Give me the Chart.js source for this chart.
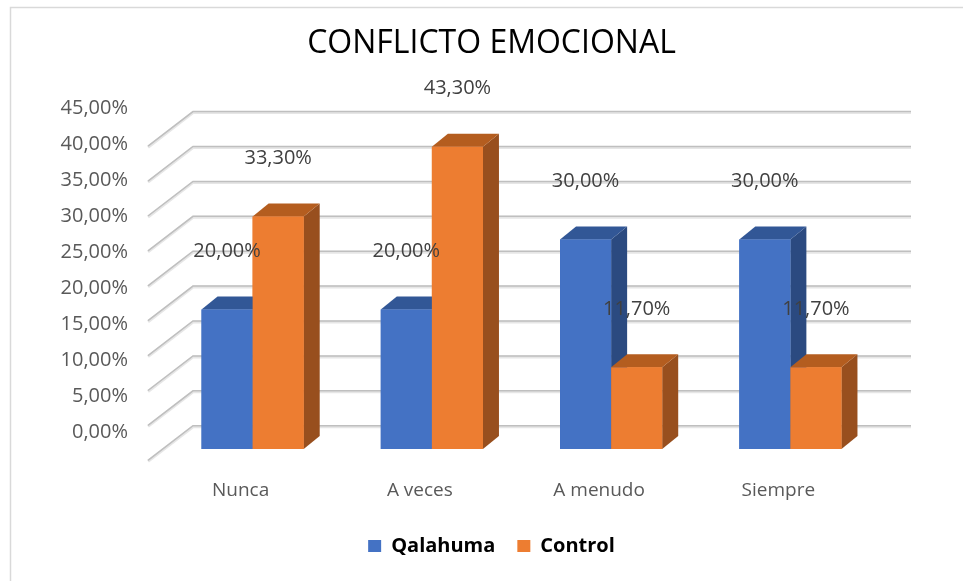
<!DOCTYPE html>
<html>
<head>
<meta charset="utf-8">
<script src="https://cdn.jsdelivr.net/npm/chart.js@4.4.1/dist/chart.umd.min.js"></script>
<style>
  html, body { margin: 0; padding: 0; background: #fff; }
  #wrap { width: 963px; height: 581px; }
</style>
</head>
<body>
<div id="wrap"><canvas id="c" width="963" height="581"></canvas></div>
<script>
// ---- data ----
const chartTitle = 'CONFLICTO EMOCIONAL';
const categories = ['Nunca', 'A veces', 'A menudo', 'Siempre'];
const seriesNames = ['Qalahuma', 'Control'];
const qalahumaValues = [20.0, 20.0, 30.0, 30.0];
const controlValues = [33.3, 43.3, 11.7, 11.7];
const yTickValues = [0, 5, 10, 15, 20, 25, 30, 35, 40, 45];
const yTickLabels = ['0,00%', '5,00%', '10,00%', '15,00%', '20,00%', '25,00%', '30,00%', '35,00%', '40,00%', '45,00%'];

// ---- styles ----
const FONT = "'Open Sans', 'Liberation Sans', sans-serif";
const frontColors = ['#4472C4', '#ED7D31'];
const topColors = ['#325796', '#B45D1F'];
const sideColors = ['#2B4A80', '#984F1E'];
const depth = { dx: 16, dy: -13 };               // bar depth in pixels
const wall = { dx: 30, dy: -23.3, fdx: -15, fdy: 11.3 }; // back wall / floor front offsets

const fmtPct = v => v.toFixed(2).replace('.', ',') + '%';

const framePlugin = {
  id: 'frame',
  beforeDraw(chart) {
    const ctx = chart.ctx;
    ctx.save();
    ctx.fillStyle = '#ffffff';
    ctx.fillRect(0, 0, chart.width, chart.height);
    ctx.strokeStyle = '#d9d9d9';
    ctx.lineWidth = 1.5;
    ctx.beginPath();
    ctx.moveTo(10.5, chart.height);
    ctx.lineTo(10.5, 7.5);
    ctx.lineTo(chart.width, 7.5);
    ctx.stroke();
    ctx.restore();
  }
};

const wallGridPlugin = {
  id: 'wallGrid',
  beforeDatasetsDraw(chart) {
    const ctx = chart.ctx;
    const ys = chart.scales.y;
    const area = chart.chartArea;
    ctx.save();
    yTickValues.forEach(v => {
      const yf = ys.getPixelForValue(v);
      const yb = yf + wall.dy;
      const xb0 = area.left + wall.dx;
      const xb1 = area.right + wall.dx + 1;
      const xf = area.left + wall.fdx;
      const yfr = yf + wall.fdy;
      ctx.strokeStyle = '#e6e6e6';
      ctx.lineWidth = 3;
      ctx.beginPath();
      ctx.moveTo(xf, yfr + 1);
      ctx.lineTo(xb0, yb + 1);
      ctx.lineTo(xb1, yb + 1);
      ctx.stroke();
      ctx.strokeStyle = '#bfbfbf';
      ctx.lineWidth = 1.5;
      ctx.beginPath();
      ctx.moveTo(xf, yfr);
      ctx.lineTo(xb0, yb);
      ctx.lineTo(xb1, yb);
      ctx.stroke();
    });
    ctx.restore();
  }
};

const bars3dPlugin = {
  id: 'bars3d',
  afterDatasetsDraw(chart) {
    const ctx = chart.ctx;
    const metas = chart.getSortedVisibleDatasetMetas().slice().sort((a, b) => a.index - b.index);
    const poly = pts => {
      ctx.beginPath();
      ctx.moveTo(pts[0][0], pts[0][1]);
      for (let k = 1; k < pts.length; k++) ctx.lineTo(pts[k][0], pts[k][1]);
      ctx.closePath();
      ctx.fill();
    };
    ctx.save();
    categories.forEach((_, i) => {
      metas.forEach(meta => {
        const di = meta.index;
        const bar = meta.data[i];
        const p = bar.getProps(['x', 'y', 'base', 'width'], true);
        const l = p.x - p.width / 2, r = p.x + p.width / 2;
        ctx.fillStyle = sideColors[di];
        poly([[r, p.y], [r + depth.dx, p.y + depth.dy], [r + depth.dx, p.base + depth.dy], [r, p.base]]);
        ctx.fillStyle = topColors[di];
        poly([[l, p.y], [l + depth.dx, p.y + depth.dy], [r + depth.dx, p.y + depth.dy], [r, p.y]]);
        bar.draw(ctx);
      });
    });
    ctx.restore();
  },
  afterDraw(chart) {
    const ctx = chart.ctx;
    ctx.save();
    ctx.font = '20px ' + FONT;
    ctx.fillStyle = '#404040';
    ctx.textAlign = 'center';
    ctx.textBaseline = 'middle';
    chart.data.datasets.forEach((ds, di) => {
      const meta = chart.getDatasetMeta(di);
      meta.data.forEach((bar, i) => {
        const p = bar.getProps(['x', 'y'], true);
        ctx.fillText(fmtPct(ds.data[i]), p.x, p.y - 58);
      });
    });
    ctx.restore();
  }
};

new Chart(document.getElementById('c'), {
  type: 'bar',
  data: {
    labels: categories,
    datasets: [
      { label: seriesNames[0], data: qalahumaValues, backgroundColor: frontColors[0], yAxisID: 'y' },
      { label: seriesNames[1], data: controlValues, backgroundColor: frontColors[1], yAxisID: 'y' }
    ]
  },
  options: {
    responsive: false,
    animation: false,
    events: [],
    layout: { padding: { left: 20, right: 0, top: 0, bottom: 15 } },
    datasets: { bar: { categoryPercentage: 0.57, barPercentage: 1.0 } },
    scales: {
      x: {
        grid: { display: false, drawTicks: false },
        border: { display: false },
        ticks: { color: '#595959', font: { family: FONT, size: 19 }, padding: 30.6, labelOffset: -12 },
        afterFit: s => { s.height = 65; }
      },
      yl: {
        position: 'left',
        min: -2.361, max: 46.11,
        grid: { display: false, drawTicks: false },
        border: { display: false },
        afterBuildTicks: s => { s.ticks = yTickValues.map(v => ({ value: v })); },
        ticks: { color: '#595959', font: { family: FONT, size: 20 }, padding: 35,
                 callback: (v, idx) => yTickLabels[idx] },
        afterFit: s => { s.width = 143; }
      },
      y: {
        position: 'right',
        min: 0, max: 50,
        grid: { display: false, drawTicks: false },
        border: { display: false },
        ticks: { display: false },
        afterFit: s => { s.width = 83; }
      }
    },
    plugins: {
      title: {
        display: true,
        text: chartTitle,
        color: '#000000',
        font: { family: FONT, size: 32, weight: 'normal' },
        padding: { top: 24.8, bottom: 36.8 }
      },
      legend: {
        position: 'bottom',
        labels: {
          color: '#000000',
          font: { family: FONT, size: 20, weight: 'bold' },
          boxWidth: 13, boxHeight: 12, padding: 22
        }
      },
      tooltip: { enabled: false }
    }
  },
  plugins: [framePlugin, wallGridPlugin, bars3dPlugin]
});
</script>
</body>
</html>
